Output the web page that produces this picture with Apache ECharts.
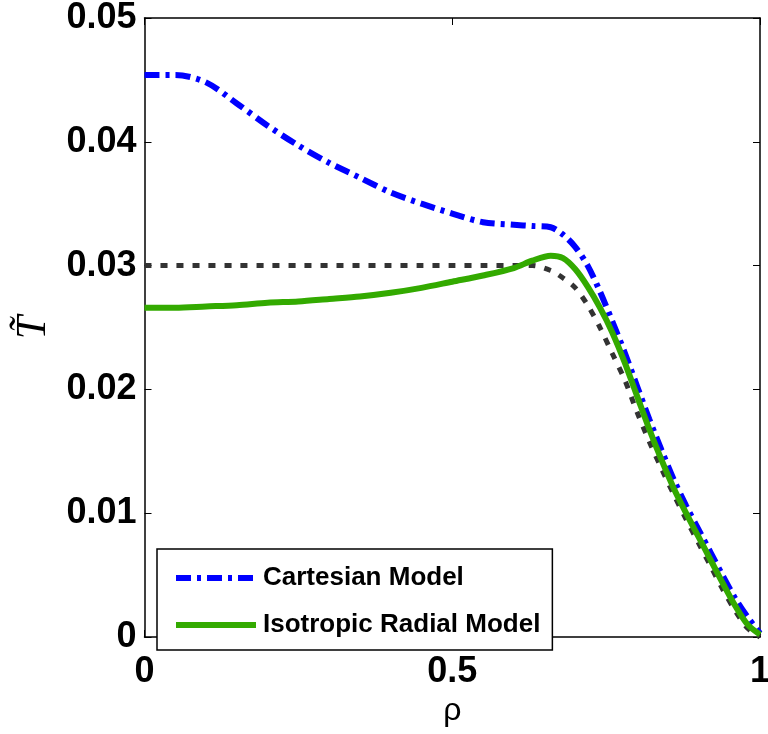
<!DOCTYPE html>
<html>
<head>
<meta charset="utf-8">
<script src="https://cdn.jsdelivr.net/npm/echarts@6/dist/echarts.min.js"></script>
<style>
html,body{margin:0;padding:0;background:#fff;}
#chart{width:768px;height:734px;}
</style>
</head>
<body>
<div id="chart"></div>
<script>
const rho = [0, 0.05, 0.1, 0.15, 0.2, 0.25, 0.3, 0.35, 0.4, 0.45, 0.5, 0.55, 0.6, 0.63, 0.66, 0.68, 0.70, 0.72, 0.74, 0.76, 0.78, 0.80, 0.82, 0.84, 0.86, 0.88, 0.90, 0.92, 0.94, 0.96, 0.98, 1.0];
const cartesian = [0.0454, 0.0454, 0.0448, 0.0431, 0.0413, 0.0397, 0.0383, 0.0371, 0.0359, 0.0350, 0.0342, 0.0335, 0.0333, 0.0332, 0.0331, 0.0325, 0.0315, 0.0300, 0.0279, 0.0255, 0.0230, 0.0203, 0.0176, 0.0151, 0.0127, 0.0106, 0.0087, 0.0068, 0.0049, 0.0031, 0.0016, 0.0003];
const isotropic = [0.0266, 0.0266, 0.0267, 0.0268, 0.0270, 0.0271, 0.0273, 0.0275, 0.0278, 0.0282, 0.0287, 0.0292, 0.0298, 0.0304, 0.0308, 0.0306, 0.0297, 0.0283, 0.0266, 0.0246, 0.0222, 0.0195, 0.0168, 0.0143, 0.0120, 0.0100, 0.0081, 0.0062, 0.0043, 0.0025, 0.0010, 0.0002];
const reference = [0.0300, 0.0300, 0.0300, 0.0300, 0.0300, 0.0300, 0.0300, 0.0300, 0.0300, 0.0300, 0.0300, 0.0300, 0.0300, 0.0300, 0.0296, 0.0290, 0.0282, 0.0268, 0.0250, 0.0229, 0.0208, 0.0182, 0.0158, 0.0136, 0.0115, 0.0095, 0.0076, 0.0057, 0.0038, 0.0021, 0.0007, 0.0];
const seriesNames = ['Cartesian Model', 'Isotropic Radial Model', 'Reference'];
const xTicks = [0, 0.5, 1];
const yTicks = [0, 0.01, 0.02, 0.03, 0.04, 0.05];

const pairs = (ys) => rho.map((x, i) => [x, ys[i]]);
const chart = echarts.init(document.getElementById('chart'));
const tickFont = {fontFamily: 'Liberation Sans, Arial, sans-serif', fontWeight: 'bold', fontSize: 36, color: '#000'};
const axisLine = {show: true, onZero: false, lineStyle: {color: '#000', width: 1.5}};
const blueStyle = {color: '#0000ff', width: 6, type: [15, 6, 4, 6]};
const greenStyle = {color: '#33aa00', width: 6, type: 'solid'};
const greyStyle = {color: '#333333', width: 5, type: [7, 9]};
chart.setOption({
  animation: false,
  backgroundColor: '#fff',
  grid: {left: 144.5, right: 8, top: 18, bottom: 97, containLabel: false, outerBoundsMode: 'none'},
  legend: {
    data: [
      {name: seriesNames[0], lineStyle: blueStyle, itemStyle: {opacity: 0}},
      {name: seriesNames[1], lineStyle: greenStyle, itemStyle: {opacity: 0}}
    ],
    orient: 'vertical', left: 157, top: 549,
    itemWidth: 80, itemHeight: 14, itemGap: 21,
    padding: [16, 12, 12, 16],
    borderColor: '#000', borderWidth: 1.5, backgroundColor: '#fff',
    textStyle: {fontFamily: 'Liberation Sans, Arial, sans-serif', fontWeight: 'bold', fontSize: 26, color: '#000', padding: [0, 0, 0, 2]}
  },
  xAxis: [{
    type: 'value', min: xTicks[0], max: xTicks[xTicks.length - 1], interval: 0.5,
    position: 'bottom',
    name: 'ρ', nameLocation: 'middle', nameGap: 58,
    nameTextStyle: {fontFamily: 'Liberation Sans, Arial, sans-serif', fontSize: 32, color: '#000'},
    axisLine: axisLine,
    axisTick: {show: true, inside: true, length: 7, lineStyle: {color: '#000', width: 1}},
    axisLabel: Object.assign({margin: 17, formatter: v => xTicks.includes(v) ? String(v) : ''}, tickFont),
    splitLine: {show: false}
  }, {
    type: 'value', min: 0, max: 1, interval: 0.5, position: 'top',
    axisLine: axisLine,
    axisTick: {show: true, inside: true, length: 7, lineStyle: {color: '#000', width: 1}},
    axisLabel: {show: false}, splitLine: {show: false}
  }],
  yAxis: [{
    type: 'value', min: yTicks[0], max: yTicks[yTicks.length - 1], interval: 0.01,
    position: 'left',
    name: 'T\u0303', nameLocation: 'middle', nameGap: 90, nameRotate: 90,
    nameTextStyle: {fontFamily: 'Liberation Serif, Times New Roman, serif', fontStyle: 'italic', fontSize: 42, color: '#000'},
    axisLine: axisLine,
    axisTick: {show: true, inside: true, length: 7, lineStyle: {color: '#000', width: 1}},
    axisLabel: Object.assign({margin: 8, formatter: v => v === 0 ? '0' : v.toFixed(2)}, tickFont),
    splitLine: {show: false}
  }, {
    type: 'value', min: 0, max: 0.05, interval: 0.01, position: 'right',
    axisLine: axisLine,
    axisTick: {show: true, inside: true, length: 7, lineStyle: {color: '#000', width: 1}},
    axisLabel: {show: false}, splitLine: {show: false}
  }],
  series: [{
    name: seriesNames[0], type: 'line', data: pairs(cartesian), smooth: 0.3,
    symbol: 'none', z: 2,
    lineStyle: blueStyle,
    itemStyle: {color: '#0000ff'}
  }, {
    name: seriesNames[2], type: 'line', data: pairs(reference), smooth: 0.3,
    symbol: 'none', z: 3,
    lineStyle: greyStyle,
    itemStyle: {color: '#333333'}
  }, {
    name: seriesNames[1], type: 'line', data: pairs(isotropic), smooth: 0.3,
    symbol: 'none', z: 4,
    lineStyle: greenStyle,
    itemStyle: {color: '#33aa00'}
  }]
});
</script>
</body>
</html>
